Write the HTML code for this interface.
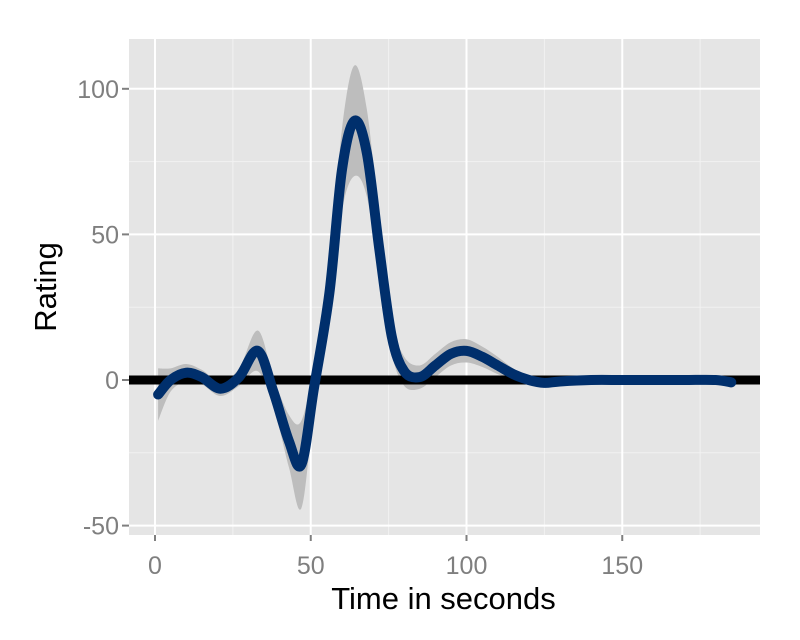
<!DOCTYPE html>
<html><head><meta charset="utf-8"><style>body{margin:0;background:#fff}svg{display:block}text{font-family:"Liberation Sans",sans-serif}</style></head>
<body>
<svg id="chart" width="800" height="640"></svg>
<script>
const times=[1,5,10,15,21,27,33,38,43,47,51,56,60,64,68,72,76,80,85,90,95,100,105,110,115,120,125,130,140,150,160,170,180,185];
const ratings=[-5,0,2.5,1,-3,1,10,-4,-21,-29,-3,30,72,89,78,45,15,3,1,5,9,10,8,5,2,0,-1,-0.5,0,0,0,0,0,-0.8];
const halfWidth=[9,4,3,2.5,2.5,3,7,5,9,15,8,8,14,19,15,10,6,5,4,4,4,4,3.5,3,2,1.5,1,1,1,1,1,1,1,2];
const xTicks=[0,50,100,150];
const yTicks=[-50,0,50,100];
const xMinor=[25,75,125,175];
const yMinor=[-25,25,75];
const L=129,R=760,T=39,B=535;
const X=t=>155+t*3.115, Y=v=>380-v*2.912;
const svg=document.getElementById('chart');const NS='http://www.w3.org/2000/svg';
function mk(tag,at,name){const e=document.createElementNS(NS,tag);for(const k in at)e.setAttribute(k,at[k]);


svg.appendChild(e);return e;}
mk('rect',{x:L,y:T,width:R-L,height:B-T,fill:'#e5e5e5'},'panel');
xMinor.forEach(v=>mk('line',{x1:X(v),x2:X(v),y1:T,y2:B,stroke:'#f2f2f2','stroke-width':1},'x-minor-grid'));
yMinor.forEach(v=>mk('line',{x1:L,x2:R,y1:Y(v),y2:Y(v),stroke:'#f2f2f2','stroke-width':1},'y-minor-grid'));
xTicks.forEach(v=>{mk('line',{x1:X(v),x2:X(v),y1:T,y2:B,stroke:'#fff','stroke-width':2},'x-major-grid');
mk('line',{x1:X(v),x2:X(v),y1:B,y2:B+6,stroke:'#7f7f7f','stroke-width':2},'x-tick');
const t=mk('text',{x:X(v),y:B+39,'text-anchor':'middle','font-size':25,fill:'#7f7f7f'},'x-tick-label');t.textContent=v;});
yTicks.forEach(v=>{mk('line',{x1:L-7,x2:R,y1:Y(v),y2:Y(v),stroke:'#fff','stroke-width':2},'y-major-grid');
mk('line',{x1:L-7,x2:L,y1:Y(v),y2:Y(v),stroke:'#7f7f7f','stroke-width':2},'y-tick');
const t=mk('text',{x:L-10,y:Y(v)+9,'text-anchor':'end','font-size':25,fill:'#7f7f7f'},'y-tick-label');t.textContent=v;});
function path(pts){let d='M'+pts[0][0]+','+pts[0][1];for(let i=0;i<pts.length-1;i++){const p0=pts[Math.max(0,i-1)],p1=pts[i],p2=pts[i+1],p3=pts[Math.min(pts.length-1,i+2)];
d+=' C'+(p1[0]+(p2[0]-p0[0])/6)+','+(p1[1]+(p2[1]-p0[1])/6)+' '+(p2[0]-(p3[0]-p1[0])/6)+','+(p2[1]-(p3[1]-p1[1])/6)+' '+p2[0]+','+p2[1];}return d;}
const up=times.map((t,i)=>[X(t),Y(ratings[i]+halfWidth[i])]);
const lo=times.map((t,i)=>[X(t),Y(ratings[i]-halfWidth[i])]).reverse();
mk('path',{d:path(up)+' L'+path(lo).slice(1)+' Z',fill:'#bdbdbd'},'confidence-ribbon');
mk('line',{x1:L,x2:R,y1:Y(0),y2:Y(0),stroke:'#000','stroke-width':9},'zero-line');
mk('path',{d:path(times.map((t,i)=>[X(t),Y(ratings[i])])),fill:'none',stroke:'#002f6c','stroke-width':10,'stroke-linecap':'round','stroke-linejoin':'round'},'smooth-line');
const xt=mk('text',{x:(L+R)/2-1,y:609,'text-anchor':'middle','font-size':31,fill:'#000'},'x-axis-title');xt.textContent='Time in seconds';
const yt=mk('text',{x:0,y:0,transform:'translate(56,287) rotate(-90)','text-anchor':'middle','font-size':31,fill:'#000'},'y-axis-title');yt.textContent='Rating';
</script>
</body></html>
